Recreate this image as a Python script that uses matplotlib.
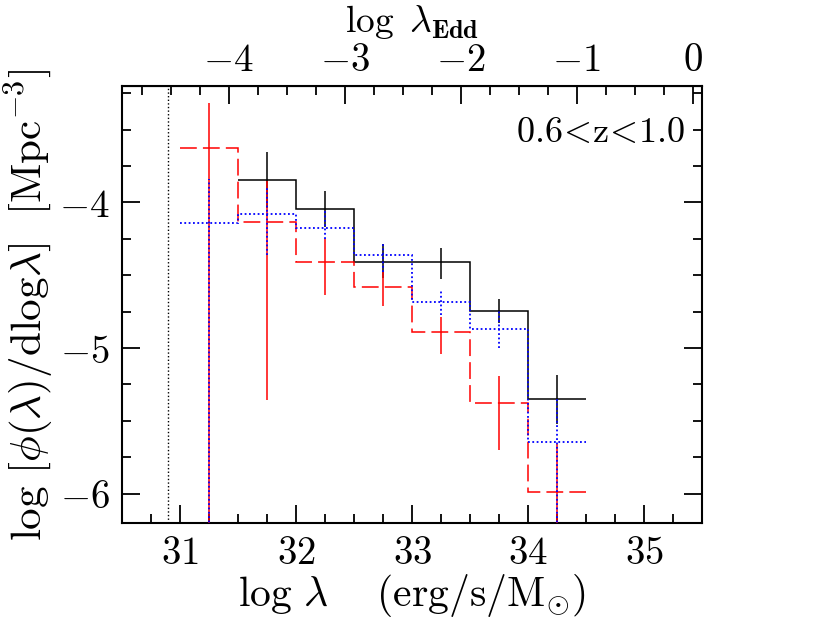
import numpy as np
import matplotlib
matplotlib.use("Agg")
import matplotlib.pyplot as plt
from matplotlib.ticker import MultipleLocator, FuncFormatter

plt.rcParams['mathtext.fontset'] = 'cm'
plt.rcParams['font.family'] = ['DejaVu Serif']

# ---- data ----
edges_black = [31.5, 32.0, 32.5, 33.0, 33.5, 34.0, 34.5]
phi_black = [-3.845, -4.046, -4.406, -4.406, -4.743, -5.35]
x_black = [31.75, 32.25, 32.75, 33.25, 33.75, 34.25]
hi_black = [-3.652, -3.918, -4.287, -4.315, -4.661, -5.186]
lo_black = [-4.04, -4.17, -4.52, -4.523, -4.83, -5.52]

edges_red = [31.0, 31.5, 32.0, 32.5, 33.0, 33.5, 34.0, 34.5]
phi_red = [-3.626, -4.133, -4.406, -4.578, -4.89, -5.377, -5.99]
x_red = [31.25, 31.75, 32.25, 32.75, 33.25, 33.75, 34.25]
hi_red = [-3.32, -3.85, -4.25, -4.48, -4.785, -5.193, -5.66]
lo_red = [-7.0, -5.36, -4.638, -4.71, -5.044, -5.703, -7.0]

edges_blue = [31.0, 31.5, 32.0, 32.5, 33.0, 33.5, 34.0, 34.5]
phi_blue = [-4.142, -4.078, -4.177, -4.363, -4.684, -4.872, -5.647]
x_blue = [31.25, 31.75, 32.25, 32.75, 33.25, 33.75, 34.25]
hi_blue = [-3.84, -3.9, -4.058, -4.275, -4.6, -4.743, -5.35]
lo_blue = [-7.0, -4.361, -4.25, -4.48, -4.77, -5.0, -7.0]

limit_x = 30.89
edd_offset = 35.417
label_text = r'$0.6\!<\!\mathrm{z}\!<\!1.0$'

fig = plt.figure(figsize=(8.3, 6.21), dpi=100)
ax = fig.add_axes([0.1474, 0.1583, 0.6988, 0.7032])

lw = 1.1
# black
ax.stairs(phi_black, edges_black, baseline=None, color='black', lw=lw, zorder=2)
ax.vlines(x_black, lo_black, hi_black, color='black', lw=lw, zorder=2)
# red dashed
ax.stairs(phi_red, edges_red, baseline=None, color='red', lw=lw, linestyle=(0, (11, 4)), zorder=3)
ax.vlines(x_red, lo_red, hi_red, color='red', lw=lw, zorder=3)
# blue dotted
ax.stairs(phi_blue, edges_blue, baseline=None, color='blue', lw=1.3, linestyle=(0, (1, 1.4)), zorder=4)
ax.vlines(x_blue, lo_blue, hi_blue, color='blue', lw=1.3, linestyle=(0, (1, 1.4)), zorder=4)

ax.axvline(limit_x, color='black', lw=1.0, linestyle=(0, (1, 1.6)), zorder=1)

ax.set_xlim(30.5, 35.5)
ax.set_ylim(-6.2, -3.2)

fs = 28
lfs = 30
def _f(v, p):
    r = int(round(v))
    return r'$%d$' % r if r >= 0 else r'$-%d$' % abs(r)
fmt = FuncFormatter(_f)
ax.xaxis.set_major_locator(MultipleLocator(1))
ax.xaxis.set_minor_locator(MultipleLocator(0.25))
ax.yaxis.set_major_locator(MultipleLocator(1))
ax.yaxis.set_minor_locator(MultipleLocator(0.25))
ax.xaxis.set_major_formatter(fmt)
ax.yaxis.set_major_formatter(fmt)
ax.tick_params(which='both', direction='in', top=False, right=True, width=1.3, labelsize=fs)
ax.tick_params(which='major', length=13)
ax.tick_params(which='minor', length=6.3)
ax.tick_params(axis='x', pad=9)
ax.tick_params(axis='y', pad=9)
for s in ax.spines.values():
    s.set_linewidth(1.5)

sec = ax.secondary_xaxis('top', functions=(lambda x: x - edd_offset, lambda x: x + edd_offset))
sec.xaxis.set_major_locator(MultipleLocator(1))
sec.xaxis.set_minor_locator(MultipleLocator(0.25))
sec.xaxis.set_major_formatter(fmt)
sec.tick_params(which='both', direction='in', width=1.3, labelsize=fs, pad=5)
sec.tick_params(which='major', length=13)
sec.tick_params(which='minor', length=6.3)
sec.set_xlabel(r'$\log\ \lambda_{\mathbf{Edd}}$', fontsize=27, labelpad=7)

ax.set_xlabel(r'$\log\,\lambda\quad\ (\mathrm{erg/s/M_{\odot}})$', fontsize=lfs, labelpad=0)
ax.set_ylabel(r'$\log\,\left[\phi(\lambda)/\mathrm{dlog}\lambda\right]\ \ [\mathrm{Mpc}^{-3}]$',
              fontsize=31, labelpad=2)

ax.text(35.35, -3.516, label_text, fontsize=26, ha='right', va='center')

fig.savefig('out.png', dpi=100)
